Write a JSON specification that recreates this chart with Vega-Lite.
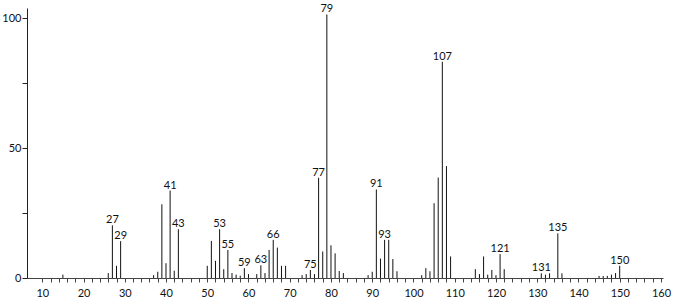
{
  "$schema": "https://vega.github.io/schema/vega-lite/v6.json",
  "width": 636,
  "height": 270,
  "autosize": {"type": "none"},
  "padding": {"left": 27, "top": 8, "right": 15, "bottom": 22},
  "background": "white",
  "config": {"view": {"stroke": null}, "font": "Lato"},
  "data": {"values": [
    {"mz": 15, "i": 1.3}, {"mz": 26, "i": 1.9}, {"mz": 27, "i": 20.3, "label": "27"}, {"mz": 28, "i": 4.7}, {"mz": 29, "i": 14.2, "label": "29"},
    {"mz": 37, "i": 1.1}, {"mz": 38, "i": 2.4}, {"mz": 39, "i": 28.4}, {"mz": 40, "i": 5.7}, {"mz": 41, "i": 33.7, "label": "41"}, {"mz": 42, "i": 2.8}, {"mz": 43, "i": 18.8, "label": "43"},
    {"mz": 50, "i": 4.7}, {"mz": 51, "i": 14.3}, {"mz": 52, "i": 6.6}, {"mz": 53, "i": 18.8, "label": "53"}, {"mz": 54, "i": 3.4}, {"mz": 55, "i": 10.8, "label": "55"}, {"mz": 56, "i": 1.9}, {"mz": 57, "i": 1.3}, {"mz": 58, "i": 0.9}, {"mz": 59, "i": 3.8, "label": "59"},
    {"mz": 60, "i": 1.5}, {"mz": 62, "i": 1.5}, {"mz": 63, "i": 4.9, "label": "63"}, {"mz": 64, "i": 1.9}, {"mz": 65, "i": 10.8}, {"mz": 66, "i": 14.7, "label": "66"}, {"mz": 67, "i": 11.7}, {"mz": 68, "i": 4.7}, {"mz": 69, "i": 4.7},
    {"mz": 73, "i": 1.1}, {"mz": 74, "i": 1.5}, {"mz": 75, "i": 3.1, "label": "75"}, {"mz": 76, "i": 1.5}, {"mz": 77, "i": 38.6, "label": "77"}, {"mz": 78, "i": 10.2}, {"mz": 79, "i": 101.5, "label": "79"},
    {"mz": 80, "i": 12.6}, {"mz": 81, "i": 9.5}, {"mz": 82, "i": 2.7}, {"mz": 83, "i": 1.9}, {"mz": 89, "i": 1.1},
    {"mz": 90, "i": 2.4}, {"mz": 91, "i": 34.1, "label": "91"}, {"mz": 92, "i": 7.5}, {"mz": 93, "i": 14.7, "label": "93"}, {"mz": 94, "i": 14.7}, {"mz": 95, "i": 7.3}, {"mz": 96, "i": 2.6},
    {"mz": 102, "i": 1.1}, {"mz": 103, "i": 3.8}, {"mz": 104, "i": 2.6}, {"mz": 105, "i": 28.8}, {"mz": 106, "i": 38.7}, {"mz": 107, "i": 83.3, "label": "107"}, {"mz": 108, "i": 43.1}, {"mz": 109, "i": 8.3},
    {"mz": 115, "i": 3.4}, {"mz": 116, "i": 1.5}, {"mz": 117, "i": 8.3}, {"mz": 118, "i": 1.3}, {"mz": 119, "i": 3.1}, {"mz": 120, "i": 1.1}, {"mz": 121, "i": 9.2, "label": "121"}, {"mz": 122, "i": 3.4},
    {"mz": 131, "i": 1.8, "label": "131"}, {"mz": 132, "i": 1.3}, {"mz": 133, "i": 1.8}, {"mz": 135, "i": 17.2, "label": "135"}, {"mz": 136, "i": 1.8},
    {"mz": 145, "i": 0.8}, {"mz": 146, "i": 0.8}, {"mz": 147, "i": 0.8}, {"mz": 148, "i": 1.3}, {"mz": 149, "i": 1.9}, {"mz": 150, "i": 4.7, "label": "150"}
  ]},
  "encoding": {
    "x": {
      "field": "mz", "type": "quantitative",
      "scale": {"domain": [6.3, 160.5], "nice": false, "zero": false},
      "axis": {
        "title": null, "grid": false,
        "values": [10,12,14,16,18,20,22,24,26,28,30,32,34,36,38,40,42,44,46,48,50,52,54,56,58,60,62,64,66,68,70,72,74,76,78,80,82,84,86,88,90,92,94,96,98,100,102,104,106,108,110,112,114,116,118,120,122,124,126,128,130,132,134,136,138,140,142,144,146,148,150,152,154,156,158,160],
        "labelExpr": "datum.value % 10 == 0 ? datum.label : ''",
        "labelFont": "Lato", "labelFontSize": 11, "labelColor": "#111", "labelPadding": 5,
        "tickSize": 4, "tickColor": "#444", "domainColor": "#444", "labelFlush": false, "labelOverlap": false
      }
    },
    "y": {
      "field": "i", "type": "quantitative",
      "scale": {"domain": [0, 104], "nice": false},
      "axis": {
        "title": null, "grid": false,
        "values": [0, 25, 50, 75, 100],
        "labelExpr": "datum.value % 50 == 0 ? datum.label : ''",
        "labelFont": "Lato", "labelFontSize": 11, "labelColor": "#111", "labelPadding": 1,
        "tickSize": 5, "tickColor": "#222", "domainColor": "#222"
      }
    }
  },
  "layer": [
    {
      "mark": {"type": "rule", "color": "#111", "strokeWidth": 1},
      "encoding": {"y2": {"datum": 0}}
    },
    {
      "transform": [{"filter": "datum.label != null"}],
      "mark": {"type": "text", "baseline": "bottom", "dy": 0, "font": "Lato", "fontSize": 11, "color": "#111"},
      "encoding": {"text": {"field": "label"}}
    }
  ]
}
